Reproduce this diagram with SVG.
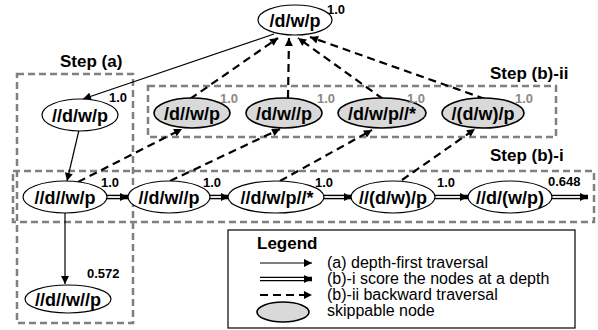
<svg xmlns="http://www.w3.org/2000/svg" width="598" height="330" viewBox="0 0 598 330">
<style>
.n{fill:#fff;stroke:#000;stroke-width:1.2}
.g{fill:#d9d9d9;stroke:#000;stroke-width:1.6}
.t{font-family:"Liberation Sans",Arial,sans-serif;font-weight:bold;font-size:18px;text-anchor:middle;fill:#000}
.s{font-family:"Liberation Sans",Arial,sans-serif;font-weight:bold;font-size:13px;fill:#000}
.sg{font-family:"Liberation Sans",Arial,sans-serif;font-weight:bold;font-size:13px;fill:#888}
.st{font-family:"Liberation Sans",Arial,sans-serif;font-weight:bold;font-size:17px;fill:#000}
.lt{font-family:"Liberation Sans",Arial,sans-serif;font-size:16px;fill:#000}
.box{fill:none;stroke:#808080;stroke-width:2.5;stroke-dasharray:7 4}
.sol{fill:none;stroke:#000;stroke-width:1.2;marker-end:url(#ah)}
.das{fill:none;stroke:#000;stroke-width:2.2;stroke-dasharray:8 5;marker-end:url(#ah)}
.dbo{fill:none;stroke:#000;stroke-width:4.6;marker-end:url(#ah)}
.dbi{fill:none;stroke:#fff;stroke-width:1.8}
</style>
<defs>
<marker id="ah" viewBox="0 0 10 10" refX="10" refY="5" markerWidth="10" markerHeight="8" markerUnits="userSpaceOnUse" orient="auto">
<path d="M0,0 L10,5 L0,10 Z" fill="#000"/>
</marker>
</defs>
<g id="boxes">
<rect class="box" x="17" y="74" width="116" height="249"/>
<rect class="box" x="148" y="86" width="408" height="51"/>
<rect class="box" x="13" y="171" width="581" height="51"/>
<text class="st" x="60" y="67">Step (a)</text>
<text class="st" x="490" y="79">Step (b)-ii</text>
<text class="st" x="490" y="161">Step (b)-i</text>
</g>
<g id="connectors">
<path class="sol" d="M274,34 L83,99"/>
<path class="sol" d="M79,130 L67,181"/>
<path class="sol" d="M65,213 L65,284"/>
<path class="das" d="M78,182 L182,129"/>
<path class="das" d="M170,181 L280,129"/>
<path class="das" d="M280,181 L372,130"/>
<path class="das" d="M402,180 L475,129"/>
<path class="das" d="M190,99 L278,38"/>
<path class="das" d="M288,98 L289,38"/>
<path class="das" d="M383,99 L298,38"/>
<path class="das" d="M485,99 L310,37"/>
<path class="dbo" d="M107,197 L128,197"/><path class="dbi" d="M107,197 L120,197"/>
<path class="dbo" d="M210,197 L229,197"/><path class="dbi" d="M210,197 L221,197"/>
<path class="dbo" d="M324,197 L352,197"/><path class="dbi" d="M324,197 L344,197"/>
<path class="dbo" d="M435,197 L468,197"/><path class="dbi" d="M435,197 L460,197"/>
<path class="dbo" d="M552,197 L588,197"/><path class="dbi" d="M552,197 L580,197"/>
</g>
<g id="n_top"><ellipse class="n" cx="295" cy="20" rx="37" ry="15"/><text class="t" x="295" y="26.5">/d/w/p</text><text class="s" x="327" y="14">1.0</text></g>
<g id="n_a1"><ellipse class="n" cx="80" cy="115" rx="38" ry="16"/><text class="t" x="80" y="121.5">//d/w/p</text><text class="s" x="109" y="102">1.0</text></g>
<g id="n_g1"><ellipse class="g" cx="192" cy="113" rx="38" ry="15"/><text class="t" x="192" y="119.5">/d//w/p</text><text class="sg" x="220" y="103">1.0</text></g>
<g id="n_g2"><ellipse class="g" cx="284" cy="113" rx="38" ry="15"/><text class="t" x="284" y="119.5">/d/w//p</text><text class="sg" x="317" y="103">1.0</text></g>
<g id="n_g3"><ellipse class="g" cx="382" cy="113" rx="44" ry="15"/><text class="t" x="382" y="119.5">/d/w/p//*</text><text class="sg" x="407" y="103">1.0</text></g>
<g id="n_g4"><ellipse class="g" cx="483" cy="113" rx="41" ry="15"/><text class="t" x="483" y="119.5">/(d/w)/p</text><text class="sg" x="515" y="103">1.0</text></g>
<g id="n_b1"><ellipse class="n" cx="65" cy="197" rx="42" ry="16"/><text class="t" x="65" y="203.5">//d//w/p</text><text class="s" x="101" y="187">1.0</text></g>
<g id="n_b2"><ellipse class="n" cx="169" cy="197" rx="41" ry="16"/><text class="t" x="169" y="203.5">//d/w//p</text><text class="s" x="203" y="187">1.0</text></g>
<g id="n_b3"><ellipse class="n" cx="276" cy="197" rx="48" ry="16"/><text class="t" x="277" y="203.5">//d/w/p//*</text><text class="s" x="315" y="187">1.0</text></g>
<g id="n_b4"><ellipse class="n" cx="393" cy="197" rx="42" ry="16"/><text class="t" x="393" y="203.5">//(d/w)/p</text><text class="s" x="437" y="187">1.0</text></g>
<g id="n_b5"><ellipse class="n" cx="510" cy="197" rx="42" ry="16"/><text class="t" x="510" y="203.5">//d/(w/p)</text><text class="s" x="548" y="186">0.648</text></g>
<g id="n_a2"><ellipse class="n" cx="68" cy="299" rx="43" ry="14"/><text class="t" x="68" y="305.5">//d//w//p</text><text class="s" x="87" y="278">0.572</text></g>
<g id="legend">
<rect x="228" y="230" width="347" height="98" fill="#fff" stroke="#000" stroke-width="1.2"/>
<text class="st" x="257" y="249">Legend</text>
<path class="sol" d="M260,263 L312,263"/>
<path class="dbo" d="M260,279 L312,279"/><path class="dbi" d="M260,279 L304,279"/>
<path class="das" d="M260,295 L312,295"/>
<ellipse class="g" cx="283" cy="312" rx="26" ry="10"/>
<text class="lt" x="327" y="268">(a) depth-first traversal</text>
<text class="lt" x="327" y="284">(b)-i score the nodes at a depth</text>
<text class="lt" x="327" y="300">(b)-ii backward traversal</text>
<text class="lt" x="327" y="316">skippable node</text>
</g>
</svg>
